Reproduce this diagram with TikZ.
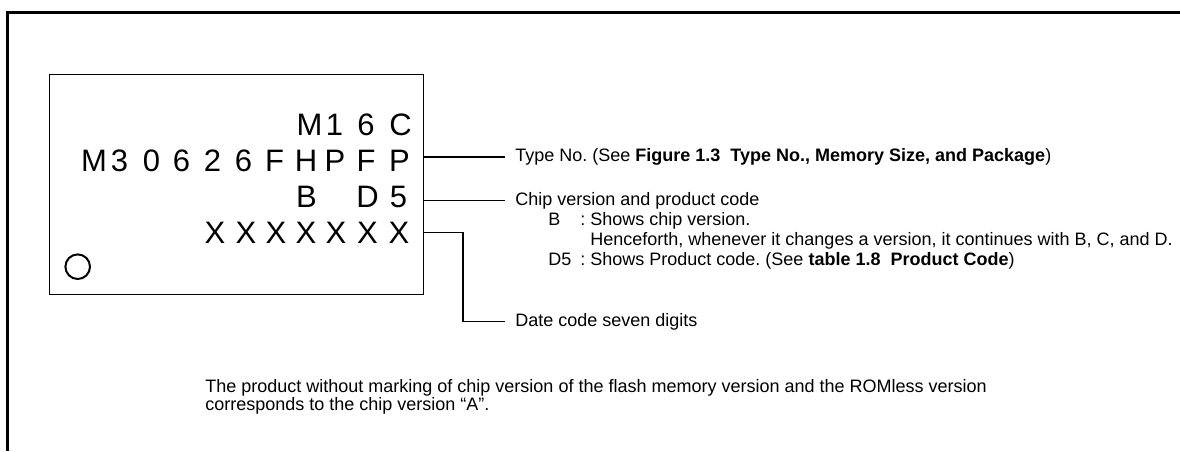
\documentclass[tikz,border=0pt]{standalone}
\usepackage{fontspec}
\setmainfont{Liberation Sans}
\usetikzlibrary{positioning}
\frenchspacing

\begin{document}
\begin{tikzpicture}[
        x=0.5pt, y=-0.5pt,
        chipchar/.style={
            anchor=base,
            inner sep=0pt,
            font=\fontsize{15.5}{18}\selectfont
        },
        lbl/.style={
            anchor=base west,
            inner xsep=5pt,
            inner ysep=0pt,
            font=\fontsize{9}{10}\selectfont
        },
        wire/.style={line width=0.6pt}
    ]
    \useasboundingbox (0,0) rectangle (1180,451);
    % outer frame
    \draw[line width=1.5pt] (7.3,451) -- (7.3,12.3) -- (1180,12.3);

    % chip body
    \node[draw, line width=0.7pt, minimum width=187pt, minimum height=110pt,
        inner sep=0pt, anchor=north west] (chip) at (49,74) {};
    \node[circle, draw, line width=1pt, minimum size=12.3pt,
        inner sep=0pt] (dotmark) at (77.7,266.7) {};

    % marking rows
    \foreach \x/\c [count=\i] in {309.5/M, 334.5/1, 366/6, 400.5/C}
        \node[chipchar] (a\i) at (\x,135) {\c};
    \foreach \x/\c [count=\i] in {94/M, 119.5/3, 151.5/0, 181.5/6, 212.5/2,
            243.5/6, 274.5/F, 306/H, 335/P, 366/F, 399.5/P}
        \node[chipchar] (b\i) at (\x,171.5) {\c};
    \foreach \x/\c [count=\i] in {306.5/B, 367.5/D, 398.5/5}
        \node[chipchar] (c\i) at (\x,207) {\c};
    \foreach \x [count=\i] in {215, 246, 276, 306, 336, 367.5, 399}
        \node[chipchar] (x\i) at (\x,243) {X};

    % labels
    \node[lbl] (typetxt) at (505,161.7)
        {Type No. (See \textbf{Figure 1.3\ \ Type No., Memory Size, and Package})};
    \node[lbl] (chiptxt) at (505,205) {Chip version and product code};
    \node[lbl] (bdesc) at (538,225) {\makebox[16pt][l]{B}: Shows chip version.};
    \node[lbl] (bmore) at (580,245)
        {Henceforth, whenever it changes a version, it continues with B, C, and D.};
    \node[lbl] (d5desc) at (538,265)
        {\makebox[16pt][l]{D5}: Shows Product code. (See \textbf{table 1.8\ \ Product Code})};
    \node[lbl] (datetxt) at (505,326) {Date code seven digits};

    \node[lbl] (note1) at (195,392)
        {The product without marking of chip version of the flash memory version and the ROMless version};
    \node[lbl] (note2) at (195,410) {corresponds to the chip version ``A''.};

    % leader lines
    \coordinate (dbend) at (463,0);
    \draw[wire] (chip.east |- typetxt.west) -- (typetxt.west);
    \draw[wire] (chip.east |- chiptxt.west) -- (chiptxt.west);
    \draw[wire] (chip.east |- x7.center) -| (dbend |- datetxt.west) -- (datetxt.west);
\end{tikzpicture}
\end{document}
